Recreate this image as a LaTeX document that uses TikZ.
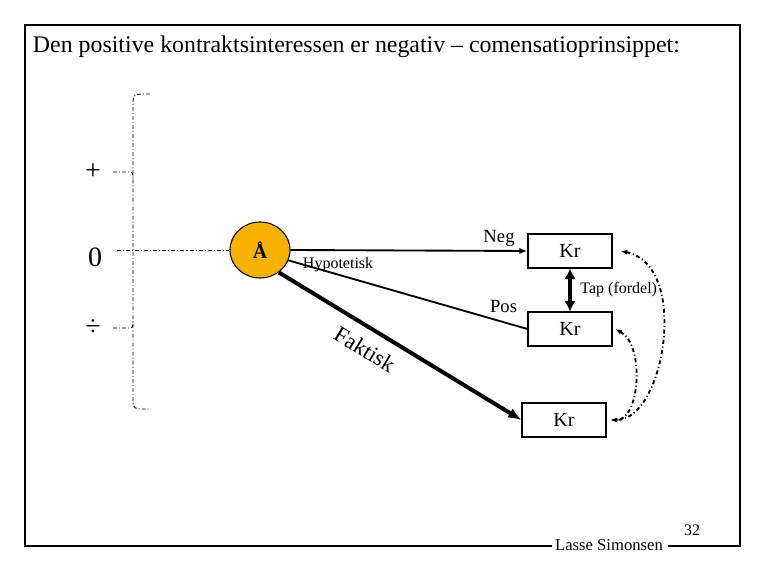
\documentclass[tikz,border=0pt]{standalone}
\usepackage{fontspec}
\setmainfont{Liberation Serif}
\usetikzlibrary{arrows.meta,calc,shapes.geometric}
\definecolor{gold}{RGB}{247,178,0}
\tikzset{pin/.style={-{Latex[length=6pt]}},
  krbox/.style={draw, minimum width=63pt, minimum height=25.5pt, font=\fontsize{15}{17}\selectfont},
  small/.style={font=\fontsize{12}{14}\selectfont},
  mid/.style={font=\fontsize{14}{16}\selectfont},
  big/.style={font=\fontsize{21}{23}\selectfont},
  brace/.style={dash pattern=on 3pt off 1.5pt on 0.8pt off 1.5pt, line width=0.6pt}}

\begin{document}
\begin{tikzpicture}[x=0.75pt, y=-0.75pt, line width=0.8pt]
  \useasboundingbox (0,0) rectangle (765,570);
  % frame with signature
  \draw (552,546) -- (25,546) -- (25,25) -- (740,25) -- (740,546) -- (668,546);
  \node[small, font=\fontsize{12.5}{14}\selectfont] (sig) at (609,545) {Lasse Simonsen};
  \node[small] (pg) at (692,530) {32};
  \node[anchor=west, font=\fontsize{17.9}{20}\selectfont] (title) at (28,47)
    {Den positive kontraktsinteressen er negativ – comensatioprinsippet:};
  % scale on the left
  \node[big] (plus) at (93,172) {+};
  \node[big] (zero) at (95,257) {0};
  \node[big] (minus) at (93,328) {÷};
  \draw[brace] (150,94) .. controls (133,94) .. (133,104) -- (133,400)
    .. controls (133,409) .. (150,409);
  \draw[brace] (113,172) -- (126,172) .. controls (133,172) .. (133,179);
  \draw[brace] (113,328) -- (126,328) .. controls (133,328) .. (133,321);
  % the nodes
  \node[ellipse, draw, fill=gold, minimum width=45pt, minimum height=42pt,
    font=\fontsize{15}{17}\selectfont\bfseries] (aa) at (260,250) {Å};
  \node[krbox] (kr1) at (570,251) {Kr};
  \node[krbox] (kr2) at (570,329) {Kr};
  \node[krbox] (kr3) at (564,420) {Kr};
  \draw[brace] (117,250) -- (aa.west);
  % hypothetical and actual
  \draw[pin, line width=1.4pt] (aa.east) -- (kr1.west)
    node[pos=0.88, above=-1pt, mid] {Neg};
  \draw[line width=1.4pt] (aa.-20) -- (kr2.west)
    node[pos=0.9, above=3pt, mid] {Pos};
  \node[small, anchor=west] (hyp) at (298,265) {Hypotetisk};
  \draw[-{Latex[length=10pt, width=8pt]}, line width=3pt] (aa.-50) -- (kr3.west)
    node[pos=0.4, below=5pt, sloped, font=\fontsize{17}{19}\selectfont] {Faktisk};
  \draw[{Latex[length=8pt, width=9pt]}-{Latex[length=8pt, width=9pt]}, line width=3pt]
    (kr1.south) -- (kr2.north) node[midway, right, small, xshift=3pt] {Tap (fordel)};
  % compensation
  \draw[{Latex[length=5pt]}-{Latex[length=5pt]}, dash dot, line width=1.4pt]
    ([xshift=6pt]kr1.east) .. controls (690,265) and (665,420) .. ([xshift=3pt]kr3.east);
  \draw[{Latex[length=5pt]}-{Latex[length=5pt]}, dash dot, line width=1.4pt]
    ([xshift=2pt]kr2.east) .. controls (645,345) and (640,420) .. ([xshift=3pt]kr3.east);
\end{tikzpicture}
\end{document}
